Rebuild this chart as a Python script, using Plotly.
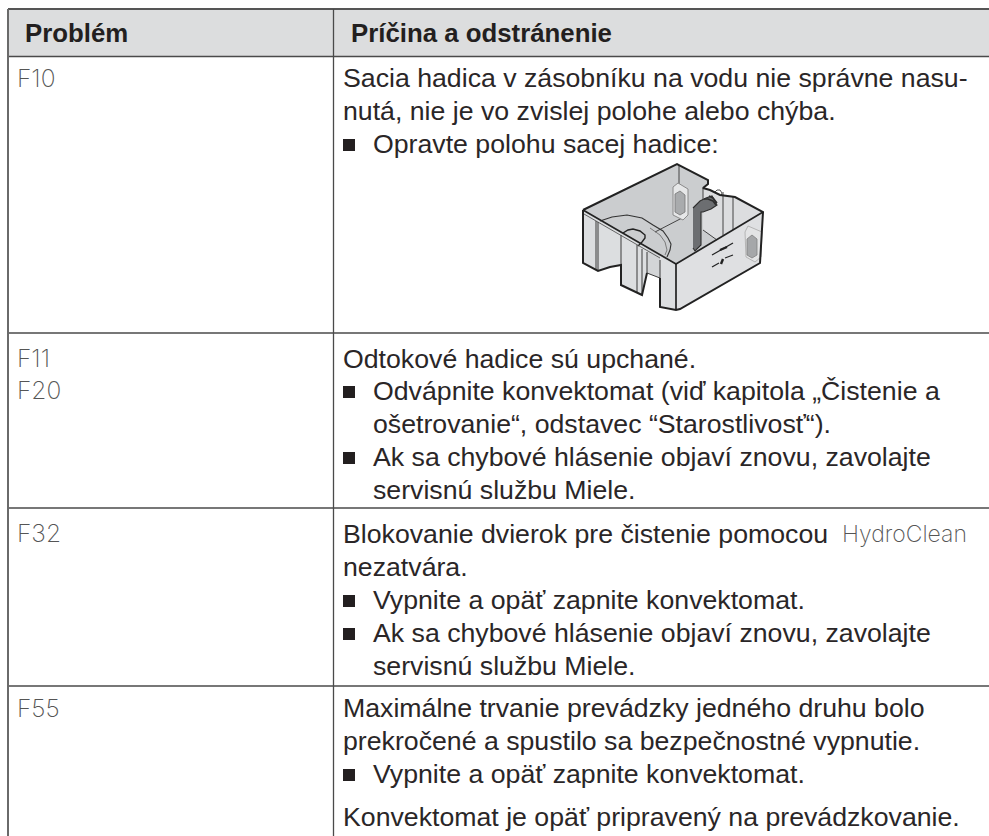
import plotly.graph_objects as go

W, H = 989, 836
INK = "#2a2627"
RULE = "#4a4a4a"

# ---- table text -------------------------------------------------------------
header_labels = ["Problém", "Príčina a odstránenie"]
header_x = [24, 350]
header_y = 33

code_labels = ["F10", "F11", "F20", "F32", "F55"]
code_y = [78, 358, 390, 533, 708]
code_x = 15.5

body_lines = [
    "Sacia hadica v zásobníku na vodu nie správne nasu-",
    "nutá, nie je vo zvislej polohe alebo chýba.",
    "Opravte polohu sacej hadice:",
    "Odtokové hadice sú upchané.",
    "Odvápnite konvektomat (viď kapitola „Čistenie a",
    "ošetrovanie“, odstavec “Starostlivosť“).",
    "Ak sa chybové hlásenie objaví znovu, zavolajte",
    "servisnú službu Miele.",
    "Blokovanie dvierok pre čistenie pomocou",
    "nezatvára.",
    "Vypnite a opäť zapnite konvektomat.",
    "Ak sa chybové hlásenie objaví znovu, zavolajte",
    "servisnú službu Miele.",
    "Maximálne trvanie prevádzky jedného druhu bolo",
    "prekročené a spustilo sa bezpečnostné vypnutie.",
    "Vypnite a opäť zapnite konvektomat.",
    "Konvektomat je opäť pripravený na prevádzkovanie.",
]
body_y = [78, 111, 144, 359, 391, 424, 457, 490, 534, 567, 600, 633, 666, 708, 741, 774, 817]
body_x = [341.5, 341.5, 372, 341.5, 372, 372, 372, 372, 341.5, 341.5, 372, 372, 372, 341.5, 341.5, 372, 341.5]

brand_label = "HydroClean"
brand_x, brand_y = 841, 534

bullet_x = [349] * 6
bullet_y = [145, 392, 458, 601, 634, 775]

# ---- table rules ------------------------------------------------------------
row_rule_y = [56.5, 333, 508, 686]
top_y = 9
left_x = 8
split_x = 333.5

# ---- illustration outlines --------------------------------------------------
sil_x = [583, 677, 708, 708, 703, 710, 720, 735, 763, 760, 680, 676, 660, 660, 647, 642, 621, 621, 610, 598, 583]
sil_y = [210, 164, 180, 184, 188, 190, 195, 197, 212, 263, 309, 310, 307, 278, 273, 295, 285, 265, 267, 271, 263]

inner_x = [583, 677, 708, 708, 703, 710, 720, 735, 763, 676]
inner_y = [210, 164, 180, 184, 188, 190, 195, 197, 212, 264]

front_r_x = [676, 763, 760, 680, 676]
front_r_y = [264, 212, 263, 309, 310]

front_l1_x = [583, 621, 621, 610, 598, 583]
front_l1_y = [210, 232, 265, 267, 271, 263]
front_l2_x = [621, 647, 647, 642, 621]
front_l2_y = [232, 247, 273, 295, 285]
front_l3_x = [660, 676, 676, 660]
front_l3_y = [255, 264, 310, 307]

back_x = [703, 710, 720, 735, 763, 732, 717, 703]
back_y = [188, 190, 195, 197, 212, 230, 240, 230]

bump_x = [715, 717, 720, 722, 721]
bump_y = [192, 190, 190, 193, 196]

arc_x = [600, 612, 627, 642, 653, 663, 668, 671, 670, 667]
arc_y = [221, 217, 215, 218, 225, 231, 238, 244, 250, 257]
arc2_x = [650, 660, 665, 667, 665]
arc2_y = [228, 235, 242, 250, 255]
hole_x = [623, 628, 633, 640, 645, 645, 642, 638]
hole_y = [233, 230, 229, 231, 235, 238, 242, 246]

wall_x = [679, 679, None, 682, 655, None, 703, 717, None, 723, 723, None, 733, 733, None, 703, 703]
wall_y = [165, 190, None, 218, 232, None, 230, 240, None, 192, 235, None, 197, 230, None, 188, 200]

post_x = [598, 598, None, 596, 596, None, 621, 621, None, 637, 637, None, 642, 642, None, 647, 647, None, 660, 660]
post_y = [222, 271, None, 221, 270, None, 235, 285, None, 245, 293, None, 249, 295, None, 252, 273, None, 260, 307]

clip1_x = [673, 678, 688, 688, 683, 673, 673]
clip1_y = [187, 183, 189, 215, 220, 215, 187]
slot1_x = [675, 680, 685, 685, 680, 675, 675]
slot1_y = [194, 191, 195, 212, 215, 212, 194]

clip2_x = [745, 748, 762, 761, 755, 746, 745]
clip2_y = [232, 226, 232, 257, 262, 257, 232]
slot2_x = [747, 752, 757, 757, 752, 747, 747]
slot2_y = [239, 235, 239, 255, 258, 255, 239]

hose_x = [693, 700, 706, 712, 717, 711, 703, 701, 701, 695, 693]
hose_y = [208, 201, 198, 196, 205, 209, 212, 212, 245, 251, 248]
ring_x = [704, 708, 713, 716, None, 709, 713, 717]
ring_y = [199, 199, 201, 205, None, 196, 198, 203]

mark_thin_x = [712, 733, None, 712, 719, None, 725, 733]
mark_thin_y = [255, 243, None, 267, 263, None, 258, 255]
mark_bold_x = [720, 727, None, 721, 723]
mark_bold_y = [250, 247, None, 264, 259]

edge_x = [583, 583, 598, 610, 621, 621, 642, 647, None, 660, 660, 676, 680, 760, 763, 735, 720, 710, 703, 708, 708, 677, 583]
edge_y = [210, 263, 271, 267, 265, 285, 295, 273, None, 278, 307, 310, 309, 263, 212, 197, 195, 190, 188, 184, 180, 164, 210]
rim_x = [583, 676, 763, None, 676, 676]
rim_y = [210, 264, 212, None, 264, 310]
rim2_x = [584, 660]
rim2_y = [214, 258]
curve_x = [647, 660]
curve_y = [273, 278]

fig = go.Figure()


def poly(x, y, fill, line="rgba(0,0,0,0)", width=0.0):
    fig.add_trace(go.Scatter(x=x, y=y, mode="lines", fill="toself", fillcolor=fill,
                             line=dict(color=line, width=width), hoverinfo="skip", showlegend=False))


def path(x, y, color="#333333", width=1.0):
    fig.add_trace(go.Scatter(x=x, y=y, mode="lines", line=dict(color=color, width=width),
                             connectgaps=False, hoverinfo="skip", showlegend=False))


# header band
poly([left_x, W, W, left_x], [top_y, top_y, row_rule_y[0], row_rule_y[0]], "#dcddde")

# illustration
poly(sil_x, sil_y, "#d3d5d7")
poly(inner_x, inner_y, "#cbcdcf")
poly(back_x, back_y, "#dcdddf")
poly(front_r_x, front_r_y, "#dfe0e2")
poly(front_l1_x, front_l1_y, "#dcdee0")
poly(front_l2_x, front_l2_y, "#dcdee0")
poly(front_l3_x, front_l3_y, "#dcdee0")
path(bump_x, bump_y, "#555555", 1.0)
path(wall_x, wall_y, "#444444", 1.0)
path(arc_x, arc_y, "#333333", 1.1)
path(arc2_x, arc2_y, "#666666", 0.8)
path(hole_x, hole_y, "#222222", 1.4)
poly(clip1_x, clip1_y, "#e6e7e8", "#8a8a8a", 1.0)
poly(slot1_x, slot1_y, "#a9abad", "#777777", 0.8)
poly(clip2_x, clip2_y, "#e3e4e5", "#b5b5b5", 1.0)
poly(slot2_x, slot2_y, "#a5a7a9", "#808080", 0.8)
poly(hose_x, hose_y, "#6c6e71", "#2e2e2e", 1.1)
path(ring_x, ring_y, "#2e2e2e", 1.6)
path(post_x, post_y, "#3a3a3a", 1.0)
path(curve_x, curve_y, "#3a3a3a", 1.0)
path(edge_x, edge_y, "#222222", 2.0)
path(rim_x, rim_y, "#222222", 1.7)
path(rim2_x, rim2_y, "#444444", 0.8)
path(mark_thin_x, mark_thin_y, "#222222", 1.2)
path(mark_bold_x, mark_bold_y, "#222222", 2.4)

# bullets
fig.add_trace(go.Scatter(x=bullet_x, y=bullet_y, mode="markers",
                         marker=dict(symbol="square", size=12, color="#231f20", line=dict(width=0)),
                         hoverinfo="skip", showlegend=False))

# rules
shapes = []
for y in row_rule_y:
    shapes.append(dict(type="line", x0=left_x, x1=W, y0=y, y1=y, xref="x", yref="y",
                       line=dict(color=RULE, width=1.6)))
shapes.append(dict(type="line", x0=left_x, x1=W, y0=top_y, y1=top_y, xref="x", yref="y",
                   line=dict(color="#555555", width=2)))
shapes.append(dict(type="line", x0=left_x, x1=left_x, y0=top_y, y1=H, xref="x", yref="y",
                   line=dict(color="#6a6a6a", width=2)))
shapes.append(dict(type="line", x0=split_x, x1=split_x, y0=top_y, y1=H, xref="x", yref="y",
                   line=dict(color=RULE, width=1.3)))

SANS = "Liberation Sans"
THIN = "Inter"
ann = []


def label(text, x, y, size=26.7, family=SANS, color=INK, weight=400):
    ann.append(dict(text=text, x=x, y=y, xref="x", yref="y", xanchor="left", yanchor="middle",
                    showarrow=False, borderpad=0,
                    font=dict(family=family, size=size, color=color, weight=weight)))


for t, x in zip(header_labels, header_x):
    label(t, x, header_y, size=25.8, weight=700, color="#231f20")
for t, y in zip(code_labels, code_y):
    label(t, code_x, y, size=24.5, family=THIN, color="#555555", weight=200)
for t, x, y in zip(body_lines, body_x, body_y):
    label(t, x, y)
label(brand_label, brand_x, brand_y, size=23, family=THIN, color="#555555", weight=200)

fig.update_layout(
    width=W, height=H, margin=dict(l=0, r=0, t=0, b=0),
    paper_bgcolor="white", plot_bgcolor="white", showlegend=False,
    xaxis=dict(range=[0, W], visible=False, fixedrange=True),
    yaxis=dict(range=[H, 0], visible=False, fixedrange=True),
    shapes=shapes, annotations=ann,
)
fig.write_html("out.html", config={"displayModeBar": False},
               post_script="document.body.style.margin='0';document.body.style.overflow='hidden';")
